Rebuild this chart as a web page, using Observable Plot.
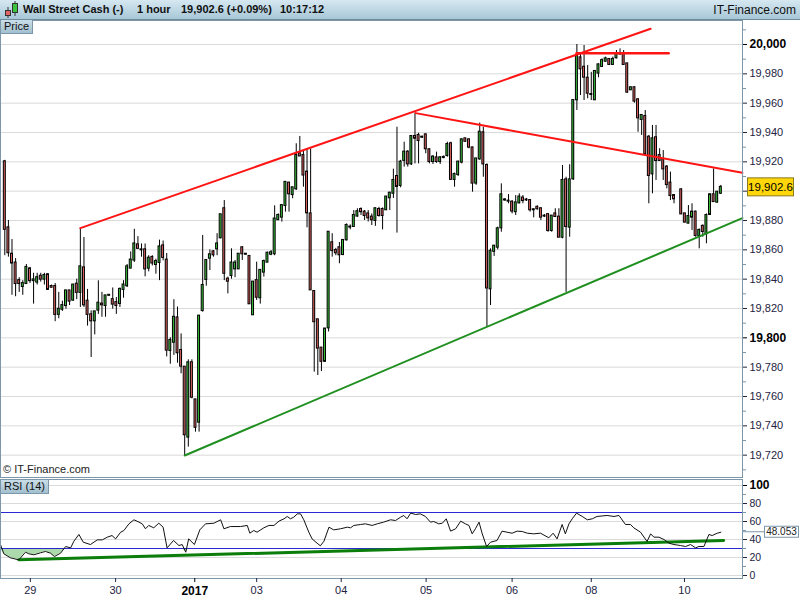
<!DOCTYPE html>
<html><head><meta charset="utf-8">
<script src="https://cdn.jsdelivr.net/npm/d3@7"></script>
<script src="https://cdn.jsdelivr.net/npm/@observablehq/plot@0.6"></script>
<style>
body{margin:0;background:#fff;}
#wrap{position:relative;width:800px;height:600px;overflow:hidden;font-family:"Liberation Sans",Arial,sans-serif;background:#fff;color:#111;}
.hdr{position:absolute;left:0;top:0;width:800px;height:19px;background:linear-gradient(#d6e8f1,#a7c7d7);border-bottom:1px solid #6e8b9e;}
.hdr span{position:absolute;top:3px;font-size:11px;font-weight:bold;white-space:nowrap;}
.hdr .site{font-weight:normal;font-size:12px;right:4px;top:3px;}
.lbl{position:absolute;left:0;height:13px;padding:0 3px;font-size:11px;line-height:13px;background:linear-gradient(#c9dee8,#a3c0cf);border:1px solid #7d97aa;border-top:none;}
.copy{position:absolute;left:3px;top:463px;font-size:11px;color:#222;}
#price,#rsi{position:absolute;left:0;}
#price svg,#rsi svg{display:block;overflow:visible;}
</style></head>
<body>
<div id="wrap">
  <div class="hdr">
    <svg width="20" height="19" style="position:absolute;left:2px;top:0">
      <line x1="6" y1="7" x2="6" y2="18" stroke="#333"/><rect x="3.5" y="10.5" width="5" height="5" fill="#e36464" stroke="#333"/>
      <line x1="13" y1="1" x2="13" y2="16" stroke="#333"/><rect x="10.5" y="3.5" width="5" height="9" fill="#3cc43c" stroke="#333"/>
    </svg>
    <span style="left:23px">Wall Street Cash (-)</span>
    <span style="left:137px">1 hour</span>
    <span style="left:181px">19,902.6 (+0.09%)</span>
    <span style="left:280px">10:17:12</span>
    <span class="site">IT-Finance.com</span>
  </div>
  <div id="price" style="top:20px"></div>
  <div class="lbl" style="top:20px">Price</div>
  <div class="copy">© IT-Finance.com</div>
  <div id="rsi" style="top:478px"></div>
  <div class="lbl" style="top:479px;border-top:1px solid #7d97aa;">RSI (14)</div>
</div>
<script>
// ---- hourly candles (index 1..200, 188 = no trading) ----
const opens = [
19920,19875,19857,19851,19839,19835,19837,19847,19839,19838,
19842,19840,19843,19835,19835,19816,19819.5,19822,19832,19825.7,
19836.6,19831,19847.7,19825,19815.7,19811.6,19818.9,19823,19822,19829,
19826,19824,19823.4,19833,19835.5,19847.5,19853,19863.4,19860,19860,
19847.5,19854.8,19850,19851.4,19862.7,19853,19791.4,19797,19813.6,19791.4,
19780,19732.3,19783,19757.7,19742.5,19818.6,19839.8,19854.3,19858.6,19860.7,
19868.2,19888,19840,19842.5,19847,19847,19861.4,19857,19855.5,19815.7,
19839,19827.3,19844.8,19851.6,19857,19857.3,19880.5,19882.3,19890.2,19905.5,
19897.7,19901.6,19925.5,19924.3,19913,19884.5,19831.6,19812.3,19793,19784,
19806.8,19864.8,19859.5,19861.4,19856.8,19866.8,19875.5,19875.9,19883,19887.5,
19885.7,19884.5,19882.3,19880,19887.5,19887.5,19887.3,19895.5,19898.6,19910,
19903.9,19921,19926.6,19918.6,19937.3,19938,19936.8,19938.4,19928.2,19920.2,
19922.7,19920.2,19923,19924.3,19932.3,19908,19911.4,19919.8,19935.7,19935,
19929.5,19905.5,19922,19939.8,19917.5,19833.4,19859,19861.8,19875,19894,
19893.2,19892.5,19886,19892,19895.3,19894,19893.6,19887.3,19889,19888,
19883,19884,19873.2,19884.5,19882.3,19868.6,19907.7,19875.5,19908.4,19962.3,
19990.9,19984.5,19977,19965.9,19962.3,19980.5,19985,19988.6,19989.8,19986.4,
19990.9,19993.6,19993.6,19986.8,19969.1,19970.5,19962.3,19948.9,19950.9,19936.8,
19911.8,19936.4,19924.3,19921.4,19916.4,19905.5,19897,null,19900.9,19884.5,
19878.2,19882.3,19885.7,19869.8,19876,19870.9,19884.1,19897.5,19892.5,19898.6];
const highs = [
19921,19880,19867,19854,19841,19839,19850,19848,19844,19844,
19844,19844,19843.5,19836,19837,19831,19825,19832,19832,19836,
19840,19874.8,19868.4,19833,19818.4,19817.7,19838.9,19831,19829,19829.5,
19834,19827.5,19834,19839,19850,19858.6,19874,19869,19864,19864,
19856,19856,19853.6,19866.6,19866,19857.5,19800,19826,19821,19802.7,
19780,19785,19785,19757.7,19815,19869.8,19853,19860,19859.5,19871,
19884,19893.6,19841.4,19860.7,19852.7,19857,19862,19857.5,19855.5,19838,
19851.6,19846,19853,19858.4,19859.5,19890,19884.5,19890.2,19906,19906,
19902.3,19932.3,19937.3,19927.7,19928.9,19928.9,19831.6,19812.3,19793,19806,
19872,19871,19861,19865,19866.4,19877.7,19877,19886.8,19888,19888.6,
19886.8,19886.8,19884.5,19888.6,19889,19888.6,19896,19899.3,19915,19943.6,
19921,19933.4,19927.7,19937.3,19953.2,19939.5,19937.5,19939,19928.9,19924.3,
19926.6,19923.6,19924,19933.4,19933.4,19912.3,19920.5,19935.7,19935.7,19935.7,
19930,19922,19946.4,19943.6,19918.6,19860.7,19862.5,19875.5,19905,19895,
19897.7,19893.6,19897,19898.2,19897,19895,19893.6,19888,19890,19888.6,
19884,19884.5,19883.4,19888,19888,19917.5,19909.5,19918,19961.8,20000,
19993.6,19999.3,19985.7,19981,19982.3,19986.8,19990.2,19991.4,19990.2,19991.4,
19995.9,19997,19995.9,19986.8,19971,19971,19963,19952.3,19955,19938,
19944.8,19944.8,19928.9,19927.7,19917.5,19913,19897.7,null,19901.6,19885,
19890.2,19891.4,19886.4,19874.3,19877,19884.5,19898.2,19915.2,19899.3,19903.9];
const lows = [
19856,19855,19829,19828,19831,19829,19837,19837,19823,19836,
19838,19836,19833,19834,19811,19813,19818,19819.5,19822,19825,
19826,19820.7,19820.7,19808,19786.6,19802,19816,19814,19814,19828.5,
19819.5,19816,19820.7,19827,19834.3,19847.5,19851.4,19860.5,19855,19841.6,
19845,19849,19843.4,19839,19852.5,19787,19782,19788,19782.7,19775.5,
19719.8,19725.5,19758.4,19735.7,19735.7,19817.5,19835.2,19845.9,19855,19856,
19867.5,19839,19830,19840,19841,19847,19852.7,19856.5,19823,19815.7,
19825.5,19823,19841.4,19851.6,19856,19856,19880,19878.9,19885.7,19885.7,
19894.8,19900.5,19924,19902.7,19875,19832.7,19776.6,19774.3,19777,19783.4,
19804,19855,19856,19850.5,19856,19866,19873.6,19875.5,19882.3,19883.4,
19880,19879,19876.6,19876,19882.3,19873.6,19886.8,19886.8,19895,19871.4,
19902.3,19916.4,19916.4,19917.5,19918.6,19918.6,19936,19925.5,19918.6,19918.2,
19919,19918.2,19922,19923.2,19908,19902.7,19910,19918.6,19933.4,19928.9,
19899.3,19904,19921,19909.5,19807.7,19822,19855.5,19860,19872,19893,
19891.4,19884.5,19883.4,19891.4,19891.4,19893,19885.7,19881.8,19887,19880,
19882,19872,19872,19882.3,19868.6,19867.5,19831,19868.6,19907.3,19955,
19965.2,19961.8,19963,19961.8,19961.8,19977.3,19984.5,19988,19985.7,19985.7,
19990.2,19992.5,19985.7,19966.8,19968.6,19960,19940.2,19938,19924.3,19891.4,
19898.2,19907.3,19920.5,19907.3,19901.6,19893.6,19891.4,null,19884,19878.2,
19877.7,19873.2,19868.6,19860.7,19868.6,19864.1,19883.4,19892.5,19892,19897.7];
const closes = [
19874,19858,19851,19837,19837,19837,19848,19839,19839.5,19841,
19840,19842.5,19833,19834.5,19816,19819.5,19822,19832,19825,19836,
19831,19848.4,19822.5,19816,19811.6,19817.7,19823.6,19822.5,19828.6,19829,
19823,19822,19833,19836,19848.4,19853,19864,19861,19860,19847,
19854.3,19851,19852,19862,19854.8,19791.6,19798.2,19814,19789.8,19780.7,
19733.9,19783,19759.5,19739,19814.8,19835.7,19852.7,19856.6,19856.6,19864,
19883.9,19844,19838.6,19851,19851,19857,19857.3,19857,19823.2,19838,
19827.7,19846,19852,19857.7,19858,19881,19883.4,19890.2,19906,19898.2,
19902.3,19924.3,19924,19911,19885.2,19832.7,19811,19793,19784,19806,
19872,19859.5,19858,19856.6,19866.4,19876.6,19875.5,19883.4,19886,19886,
19883.4,19881.8,19880.5,19888,19883.4,19883.4,19896,19898.6,19907.3,19903.2,
19919.8,19926.6,19918.6,19937.3,19936.1,19934.5,19936.8,19928.9,19920.2,19923.2,
19920.2,19922.7,19923,19931.8,19908,19911.4,19919.8,19935,19934,19930,
19905.5,19922,19940.2,19918.6,19834,19859,19862.5,19874.3,19897.5,19894,
19893.2,19886.4,19892,19896,19893.6,19894,19887.3,19887.3,19888,19882.3,
19883,19873.2,19883,19882.7,19868.6,19907.3,19875.9,19907.7,19961.8,19991.8,
19983.4,19977.7,19966.8,19965.9,19981.6,19986.1,19989,19990.2,19986.4,19989.8,
19993.6,19993.6,19986.4,19967.5,19970.5,19961.4,19950,19951.6,19925.5,19910.7,
19935.7,19920.9,19920.9,19915.2,19904.5,19897,19894.8,null,19884.5,19878.9,
19882.7,19885.7,19869.8,19873.2,19872.5,19883.4,19897.5,19892.9,19899.3,19902.6];

// ---- RSI(14) line read at its vertices (candle index, value) ----
const rsiIdx = [-0.2,0.73,2.58,4.9,6.75,7.68,9.07,10.9,12.3,13.7,14.8,16.5,17.9,19.3,20.2,21.6,22.8,24.8,26.7,28.1,29.5,30.8,31.8,33.2,34.1,35.5,36.9,38.3,39.2,40.1,41.0,42.4,43.8,45.0,46.1,47.9,49.4,50.3,51.3,52.1,53.7,55.2,56.8,59.1,61.0,61.9,63.7,66.5,68.4,69.1,70.2,71.1,73.0,74.4,75.8,77.2,78.6,79.5,80.4,81.3,82.3,83.2,84.1,85.5,86.4,87.8,88.7,89.7,91.1,92.4,94.3,96.2,97.1,98.0,99.9,101.2,103.1,104.5,106.3,108.2,109.6,111.0,111.9,112.8,113.8,115.2,116.5,117.9,119.3,120.2,121.6,122.6,123.7,124.9,126.3,127.7,129.0,130.0,130.9,131.8,132.8,133.7,134.9,136.0,137.8,139.2,140.6,142.0,143.4,144.8,146.2,148.0,149.9,152.2,153.4,154.5,155.9,156.8,157.8,158.7,159.9,161.5,162.9,164.3,165.6,168.4,170.3,171.7,173.5,174.9,175.8,177.7,179.5,180.5,181.4,182.8,184.2,185.6,187.0,188.8,190.2,191.6,193.0,193.9,195.3,196.7,197.6,199.0,200];
const rsiVal = [34.4,24.1,19.6,17.4,25.9,24.1,23.0,25.2,26.7,24.8,21.1,24.8,32.2,30.7,38.1,45.6,37.0,34.4,39.6,39.6,42.6,44.4,40.7,48.1,50.0,57.4,61.9,59.3,57.4,51.9,55.6,53.0,58.1,53.7,30.7,38.9,33.3,34.4,25.9,40.7,34.4,50.7,57.4,58.1,61.9,51.9,54.4,54.4,55.6,47.0,50.0,48.1,53.0,55.6,55.6,60.4,63.0,65.6,63.0,64.8,68.5,68.5,61.9,48.1,40.7,35.9,33.0,38.1,53.7,50.7,51.9,53.7,53.0,55.6,56.7,57.4,55.6,57.4,59.3,61.9,61.1,64.8,66.7,63.0,69.3,67.8,68.5,65.6,59.3,60.0,57.4,58.1,63.0,49.3,51.9,60.4,57.4,55.6,46.3,51.9,59.3,46.3,32.2,37.0,38.9,49.3,48.1,47.0,49.3,48.9,47.0,46.3,47.0,41.9,47.0,40.7,56.7,46.3,57.4,63.0,69.3,65.6,61.9,63.0,65.6,66.7,65.6,66.7,56.7,56.7,53.0,48.1,37.8,46.3,42.6,42.6,40.0,35.9,34.4,33.3,32.2,34.4,30.7,32.2,32.2,45.6,44.4,47.0,48.053];

// ---- drawn trend lines: [candle index, value] ----
const channelTop = [[22,19874.8],[180.5,20010.7]];
const fallingLine = [[115.2,19953.2],[206,19912.5]];
const topLevel = [[159.9,19994.1],[185.5,19994.1]];
const supportLine = [[51,19719.8],[206,19881.6]];
const rsiSupport = [[4.9,17.4],[200.8,38.9]];

// ---- axes ----
const priceTicks = d3.range(19720, 20001, 20);
const priceLabelled = [19720,19740,19760,19780,19820,19840,19860,19880,19920,19940,19960,19980];
const priceMinor = d3.range(19710, 20011, 20);
const priceBold = [19800, 20000];
const rsiTicks = [0,20,40,60,80];
const rsiBold = [100];
const rsiMinor = [10,30,50,70,90];
const rsiGrid = [0,20,40,60,80,100];
const rsiBands = [30,70];
const dayIdx = [8.1,31.8,71,94.5,118.1,142,164,189.9];
const dayLbl = ["29","30","03","04","05","06","08","10"];
const yearIdx = [53.8];
const yearLbl = ["2017"];
const lastPrice = closes[closes.length-1];
const lastRsi = rsiVal[rsiVal.length-1];

const candles = opens.map((o,k)=>({i:k+1,open:o,high:highs[k],low:lows[k],close:closes[k]})).filter(d=>d.open!=null);
const rsi = rsiIdx.map((x,k)=>({i:x,v:rsiVal[k]}));

const xDom = [1-4.3/3.598, 1+(742-4.3)/3.598];
const FONT = "'Liberation Sans', Arial, sans-serif";
const AX = "#23233f", FR = "#7d97aa";
const fmt = d3.format(",");

const price = Plot.plot({
  width:800, height:457, marginTop:0, marginBottom:0, marginLeft:0, marginRight:58,
  style:{fontFamily:FONT, fontSize:"11px", background:"transparent", overflow:"visible"},
  x:{domain:xDom, axis:null},
  y:{domain:[19704.77,20016.36]},
  marks:[
    Plot.gridY(priceTicks,{stroke:"#dadada",strokeOpacity:1}),
    Plot.ruleX(candles,{x:"i",y1:"low",y2:"high",stroke:"#000",strokeWidth:1}),
    Plot.rect(candles,{x1:d=>d.i-0.27,x2:d=>d.i+0.27,y1:"open",y2:"close",insetTop:-0.5,insetBottom:-0.5,
      fill:d=>d.close>=d.open?"#3cc43c":"#e36464",stroke:"#000",strokeWidth:1}),
    Plot.line(channelTop,{x:d=>d[0],y:d=>d[1],stroke:"#ff1414",strokeWidth:2}),
    Plot.line(fallingLine,{x:d=>d[0],y:d=>d[1],stroke:"#ff1414",strokeWidth:2}),
    Plot.line(topLevel,{x:d=>d[0],y:d=>d[1],stroke:"#ff1414",strokeWidth:2.5}),
    Plot.line(supportLine,{x:d=>d[0],y:d=>d[1],stroke:"#1f8f1f",strokeWidth:2}),
    Plot.frame({stroke:FR}),
    Plot.axisY({anchor:"right",ticks:priceMinor,tickSize:3,tickFormat:()=>"",stroke:FR,label:null}),
    Plot.axisY({anchor:"right",ticks:[19900],tickSize:4,tickFormat:()=>"",stroke:AX,label:null}),
    Plot.axisY({anchor:"right",ticks:priceLabelled,tickSize:4,tickPadding:3,tickFormat:fmt,color:AX,fontSize:11,label:null}),
    Plot.axisY({anchor:"right",ticks:priceBold,tickSize:4,tickPadding:3,tickFormat:fmt,color:"#000",fontWeight:"bold",fontSize:12,label:null})
  ]
});
document.getElementById("price").append(price);
{
  const sv = d3.select(price);
  const yy = price.scale("y").apply(lastPrice);
  sv.append("rect").attr("x",747.5).attr("y",yy-9).attr("width",46).attr("height",18).attr("fill","#ffd60a").attr("stroke","#8b7a20");
  sv.append("text").attr("x",770.5).attr("y",yy+4).attr("text-anchor","middle").attr("font-size",11.5).attr("font-family",FONT).attr("fill","#000").text(d3.format(",.1f")(lastPrice));
}

const rsiChart = Plot.plot({
  width:800, height:122, marginTop:1, marginBottom:22, marginLeft:0, marginRight:58,
  style:{fontFamily:FONT, fontSize:"11px", background:"transparent", overflow:"visible"},
  x:{domain:xDom},
  y:{domain:[-3.333,106.667]},
  marks:[
    Plot.gridY(rsiGrid,{stroke:"#dadada",strokeOpacity:1}),
    Plot.areaY(rsi,{x:"i",y1:30,y2:d=>Math.min(d.v,30),fill:"#a3d6a3",fillOpacity:0.9}),
    Plot.ruleY(rsiBands,{stroke:"#2a2ad0",strokeWidth:1}),
    Plot.line(rsiSupport,{x:d=>d[0],y:d=>d[1],stroke:"#0b7d0b",strokeWidth:3}),
    Plot.line(rsi,{x:"i",y:"v",stroke:"#111",strokeWidth:1}),
    Plot.frame({stroke:FR}),
    Plot.axisY({anchor:"right",ticks:rsiMinor,tickSize:3,tickFormat:()=>"",stroke:FR,label:null}),
    Plot.axisY({anchor:"right",ticks:rsiTicks,tickSize:4,tickPadding:3,tickFormat:d=>String(d),color:AX,fontSize:10.5,label:null}),
    Plot.axisY({anchor:"right",ticks:rsiBold,tickSize:4,tickPadding:3,tickFormat:d=>String(d),color:"#000",fontWeight:"bold",fontSize:12,label:null}),
    Plot.axisX({ticks:dayIdx,tickFormat:d=>dayLbl[dayIdx.indexOf(d)],tickSize:4,tickPadding:4,color:AX,fontSize:11,label:null}),
    Plot.axisX({ticks:yearIdx,tickFormat:d=>yearLbl[yearIdx.indexOf(d)],tickSize:4,tickPadding:4,color:"#000",fontWeight:"bold",fontSize:12,label:null})
  ]
});
document.getElementById("rsi").append(rsiChart);
{
  const sv = d3.select(rsiChart);
  const yy = rsiChart.scale("y").apply(lastRsi);
  sv.append("line").attr("x1",742).attr("x2",764).attr("y1",yy).attr("y2",yy).attr("stroke",FR);
  sv.append("rect").attr("x",764.5).attr("y",yy-5.5).attr("width",34).attr("height",11).attr("fill","#fff").attr("stroke",FR);
  sv.append("text").attr("x",781.5).attr("y",yy+3.5).attr("text-anchor","middle").attr("font-size",10).attr("font-family",FONT).attr("fill","#222").text(d3.format(".3f")(lastRsi));
}
</script>
</body></html>
